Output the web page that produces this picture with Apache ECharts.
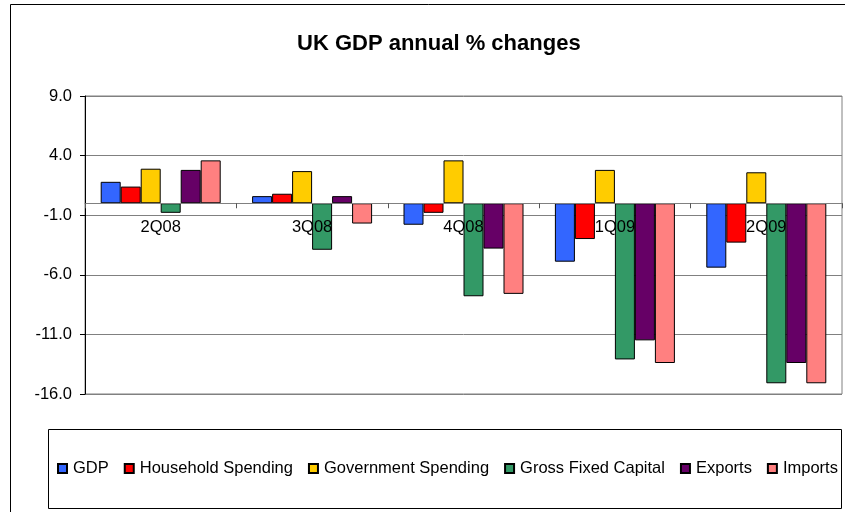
<!DOCTYPE html>
<html>
<head>
<meta charset="utf-8">
<title>UK GDP annual % changes</title>
<script src="https://cdn.jsdelivr.net/npm/echarts@6/dist/echarts.min.js"></script>
<style>
    html, body { margin: 0; padding: 0; background: #fff; }
    #chart { width: 845px; height: 512px; }
</style>
</head>
<body>
<div id="chart"></div>
<script>
    const quarters = ['2Q08', '3Q08', '4Q08', '1Q09', '2Q09']
    const gdp = [1.8, 0.6, -1.8, -4.9, -5.4]
    const household = [1.4, 0.8, -0.8, -3.0, -3.3]
    const government = [2.9, 2.7, 3.6, 2.8, 2.6]
    const grossFixed = [-0.8, -3.9, -7.8, -13.1, -15.1]
    const exportsData = [2.8, 0.6, -3.8, -11.5, -13.4]
    const importsData = [3.6, -1.7, -7.6, -13.4, -15.1]
    const yTicks = [-16, -11, -6, -1, 4, 9]

    const font = '"Liberation Sans", Arial, sans-serif'
    const labelSize = 16.5
    const seriesDefs = [
        { name: 'GDP', data: gdp, color: '#3366ff' },
        { name: 'Household Spending', data: household, color: '#ff0000' },
        { name: 'Government Spending', data: government, color: '#ffcc00' },
        { name: 'Gross Fixed Capital', data: grossFixed, color: '#339966' },
        { name: 'Exports', data: exportsData, color: '#660066' },
        { name: 'Imports', data: importsData, color: '#ff8080' }
    ]

    const chart = echarts.init(document.getElementById('chart'), null, { renderer: 'canvas' })
    chart.setOption({
        animation: false,
        textStyle: { fontFamily: font },
        title: {
            text: 'UK GDP annual % changes',
            left: 297,
            top: 33,
            padding: 0,
            textStyle: { fontSize: 22, fontWeight: 'bold', color: '#000', fontFamily: font }
        },
        // outer frame + legend box (excel style)
        graphic: [
            {
                type: 'rect',
                shape: { x: 10.5, y: 4.5, width: 860, height: 520 },
                style: { fill: 'none', stroke: '#000', lineWidth: 1 },
                silent: true
            },
            {
                type: 'rect',
                shape: { x: 48.5, y: 429.5, width: 793, height: 79 },
                style: { fill: 'none', stroke: '#000', lineWidth: 1 },
                silent: true
            }
        ],
        legend: {
            top: 455,
            left: 52,
            itemWidth: 9,
            itemHeight: 9,
            itemGap: 15,
            icon: 'rect',
            textStyle: { fontSize: labelSize, color: '#000', fontFamily: font, padding: [0, 0, 0, 1] },
            data: seriesDefs.map(s => s.name)
        },
        grid: {
            left: 85,
            right: 3,
            top: 96,
            bottom: 118,
            show: true,
            borderColor: '#808080',
            borderWidth: 1
        },
        xAxis: {
            type: 'category',
            data: quarters,
            z: 10, // labels sit on top of the bars like the excel original
            axisLine: { onZero: false, lineStyle: { color: '#808080', width: 1 } },
            axisTick: { show: true, length: 5, lineStyle: { color: '#555' } },
            axisLabel: { color: '#000', fontSize: labelSize, margin: 16, fontFamily: font },
            splitLine: { show: false }
        },
        yAxis: {
            type: 'value',
            min: yTicks[0],
            max: yTicks[yTicks.length - 1],
            interval: yTicks[1] - yTicks[0],
            axisLine: { show: true, onZero: false, lineStyle: { color: '#000', width: 1 } },
            axisTick: { show: true, length: 5, lineStyle: { color: '#000' } },
            axisLabel: {
                color: '#000',
                fontSize: labelSize,
                margin: 13,
                fontFamily: font,
                formatter: v => v.toFixed(1)
            },
            splitLine: { show: true, lineStyle: { color: '#808080', width: 1 } }
        },
        series: seriesDefs.map(s => ({
            name: s.name,
            type: 'bar',
            data: s.data,
            barWidth: 20,
            barGap: '0%',
            itemStyle: { color: s.color, borderColor: '#000', borderWidth: 1 }
        }))
    })

    // move the category axis up to the zero line (onZero didnt take here)
    const zeroY = chart.convertToPixel({ yAxisIndex: 0 }, 0)
    const bottomY = chart.convertToPixel({ yAxisIndex: 0 }, yTicks[0])
    chart.setOption({ xAxis: { offset: zeroY - bottomY } })
</script>
</body>
</html>
